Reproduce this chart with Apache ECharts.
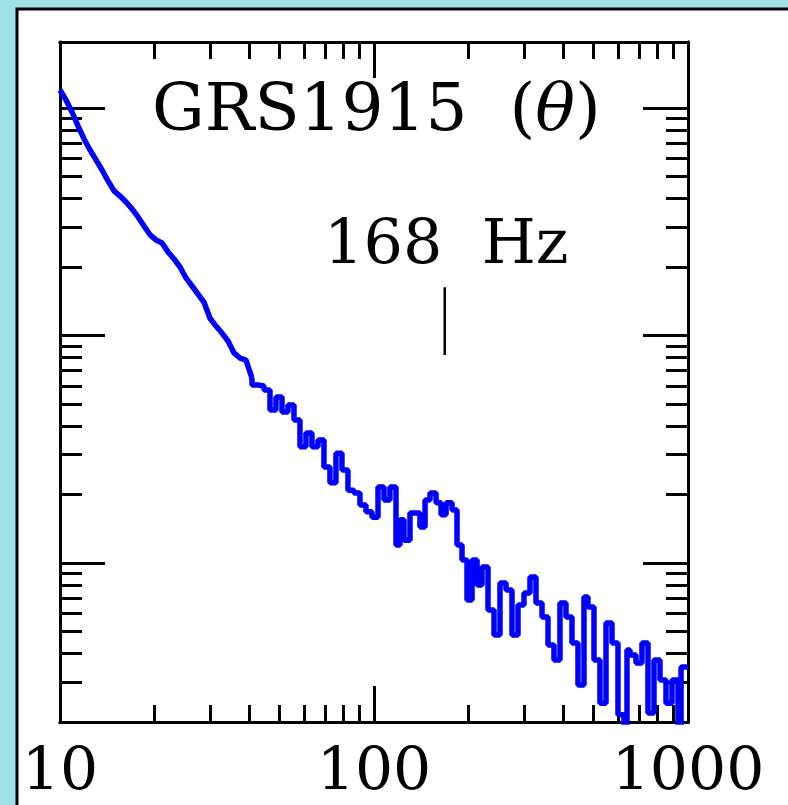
<!DOCTYPE html>
<html>
<head>
<meta charset="utf-8">
<script src="https://cdn.jsdelivr.net/npm/echarts@6/dist/echarts.min.js"></script>
<style>
  html, body { margin: 0; padding: 0; background: #a0e1e7; }
  #chart { width: 788px; height: 805px; }
</style>
</head>
<body>
<div id="chart"></div>
<script>
// power spectrum (Hz, arbitrary power)
const freq = [10, 10.45, 10.92, 11.41, 11.93, 12.46, 13.02, 13.61, 14.22, 14.86,
  15.53, 16.23, 16.96, 17.72, 18.52, 19.35, 20.22, 21.13, 22.08, 23.07,
  24.11, 25.19, 26.33, 27.51, 28.75, 30.04, 31.39, 32.80, 34.28, 35.82,
  37.43, 39.11, 40.87, 42.71, 44.63, 46.64, 48.73, 50.93, 53.21, 55.61,
  58.11, 60.72, 63.45, 66.31, 69.29, 72.40, 75.66, 79.06, 82.62, 86.33,
  90.22, 94.27, 98.54, 102.98, 107.6, 112.4, 117.5, 121.0, 124.6, 130.2,
  134.1, 140.1, 145.4, 150.8, 157.6, 163.5, 169.6, 177.2, 183.8, 190.7,
  197.8, 205.2, 212.9, 220.8, 230.7, 241.1, 251.9, 263.3, 275.1, 287.5,
  300.4, 313.9, 328.0, 342.8, 358.2, 374.3, 391.1, 408.7, 427.1, 446.3,
  466.4, 480.3, 501.9, 524.4, 548.1, 572.7, 598.4, 625.4, 639.3, 653.5,
  682.9, 713.6, 745.7, 779.3, 814.3, 851.0, 889.2, 929.3, 950.3, 971.1, 1000];
const power = [1.200, 1.084, 0.960, 0.834, 0.731, 0.654, 0.591, 0.534, 0.478, 0.432,
  0.410, 0.386, 0.360, 0.332, 0.303, 0.277, 0.263, 0.255, 0.233, 0.217,
  0.200, 0.179, 0.165, 0.152, 0.140, 0.119, 0.110, 0.1025, 0.0946, 0.0838,
  0.0796, 0.0780, 0.0650, 0.0606, 0.0600, 0.0576, 0.0470, 0.0537, 0.0461, 0.0495,
  0.0425, 0.0324, 0.0373, 0.0324, 0.0347, 0.0264, 0.0225, 0.0304, 0.0256, 0.0209,
  0.0203, 0.0180, 0.0168, 0.0159, 0.0216, 0.0189, 0.0216, 0.0120, 0.0155, 0.0126,
  0.0166, 0.0166, 0.0144, 0.0189, 0.0203, 0.0184, 0.0163, 0.0184, 0.0171, 0.0120,
  0.0103, 0.00688, 0.0103, 0.00800, 0.00960, 0.00622, 0.00483, 0.00817, 0.00761, 0.00483,
  0.00654, 0.00738, 0.00868, 0.00667, 0.00579, 0.00436, 0.00375, 0.00667, 0.00579, 0.00445,
  0.00291, 0.00709, 0.00641, 0.00375, 0.00242, 0.00545, 0.00445, 0.00215, 0.00185, 0.00415,
  0.00394, 0.00363, 0.00445, 0.00219, 0.00375, 0.00306, 0.00242, 0.00306, 0.00185, 0.00349, 0.00349];

// below this the bins are dense enough that the curve looks smooth
const smoothUpTo = 40.87;

const xRange = [10, 1000];
const yRange = [0.002, 1.95];
const xMajor = [10, 100, 1000];
const xMinor = [20, 30, 40, 50, 60, 70, 80, 90, 200, 300, 400, 500, 600, 700, 800, 900];
const yMajor = [0.01, 0.1, 1];
const yMinor = [0.002, 0.003, 0.004, 0.005, 0.006, 0.007, 0.008, 0.009,
  0.02, 0.03, 0.04, 0.05, 0.06, 0.07, 0.08, 0.09,
  0.2, 0.3, 0.4, 0.5, 0.6, 0.7, 0.8, 0.9];
const xLabels = [10, 100, 1000];
const qpoFreq = 168;
const qpoMark = [0.163, 0.082];

const FONT = '"DejaVu Serif", "Liberation Serif", serif';

function axis(range, pos, grid, ticks, len, labels) {
    return {
        type: 'log',
        gridIndex: grid,
        position: pos,
        min: range[0],
        max: range[1],
        axisLine: { show: true, lineStyle: { color: '#000', width: 3 } },
        axisTick: { show: true, inside: true, length: len, customValues: ticks,
            lineStyle: { color: '#000', width: 3 } },
        axisLabel: labels ? {
            show: true, customValues: labels, margin: 22,
            color: '#000', fontFamily: FONT, fontSize: 60,
            formatter: v => String(Math.round(v))
        } : { show: false },
        splitLine: { show: false },
        minorTick: { show: false }
    };
}

const pts = freq.map((f, i) => [f, power[i]]);
const lowPart = pts.filter(p => p[0] <= smoothUpTo);
const highPart = pts.filter(p => p[0] >= smoothUpTo);

const chart = echarts.init(document.getElementById('chart'));
const gridBox = { left: 60, top: 42, right: 100, bottom: 83 };
const blue = { color: '#0000ff', width: 5.5 };

chart.setOption({
    animation: false,
    grid: [gridBox, gridBox],
    xAxis: [
        axis(xRange, 'bottom', 0, xMajor, 36, xLabels),
        axis(xRange, 'top', 0, xMajor, 36, null),
        axis(xRange, 'bottom', 1, xMinor, 17, null),
        axis(xRange, 'top', 1, xMinor, 17, null)
    ],
    yAxis: [
        axis(yRange, 'left', 0, yMajor, 45, null),
        axis(yRange, 'right', 0, yMajor, 45, null),
        axis(yRange, 'left', 1, yMinor, 22, null),
        axis(yRange, 'right', 1, yMinor, 22, null)
    ],
    graphic: [
        {
            type: 'rect', z: -10, silent: true,
            shape: { x: 17, y: 9, width: 820, height: 840 },
            style: { fill: '#fff', stroke: '#000', lineWidth: 3 }
        },
        {
            type: 'text', left: 152, top: 80,
            style: {
                text: 'GRS1915  ({it|θ})',
                fontFamily: FONT, fontSize: 66, fill: '#000',
                rich: { it: { fontFamily: FONT, fontSize: 66, fontStyle: 'italic', fill: '#000' } }
            }
        },
        {
            type: 'text', left: 324, top: 216,
            style: { text: '168  Hz', fontFamily: FONT, fontSize: 62, fill: '#000' }
        }
    ],
    series: [
        {
            type: 'line',
            xAxisIndex: 0, yAxisIndex: 0,
            symbol: 'none',
            clip: true,
            data: lowPart,
            lineStyle: blue
        },
        {
            type: 'line',
            xAxisIndex: 0, yAxisIndex: 0,
            step: 'start',
            symbol: 'none',
            clip: true,
            data: highPart,
            lineStyle: blue
        },
        {
            type: 'line',
            xAxisIndex: 0, yAxisIndex: 0,
            symbol: 'none',
            data: qpoMark.map(p => [qpoFreq, p]),
            lineStyle: { color: '#000', width: 2.5 }
        }
    ]
});
</script>
</body>
</html>
